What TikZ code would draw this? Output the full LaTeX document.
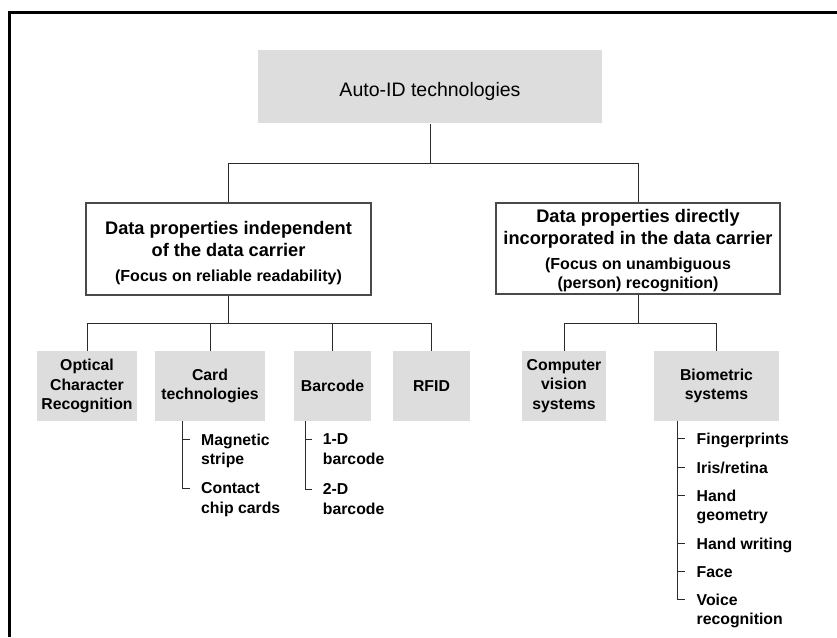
\documentclass[tikz,border=0pt]{standalone}
\usepackage{fontspec}
\setmainfont{Liberation Sans}
\definecolor{boxgray}{HTML}{DDDDDD}
\definecolor{edgegray}{HTML}{4A4A4A}
\definecolor{linegray}{HTML}{2A2A2A}
\tikzset{
  topbox/.style={fill=boxgray, draw=none, inner sep=0pt, minimum width=344pt, minimum height=73.3pt,
    font=\fontsize{19.5}{22}\selectfont, text height=22pt, text depth=2pt},
  whitebox/.style={draw=edgegray, line width=1.3pt, fill=white, inner sep=0pt, align=center,
    font=\bfseries\fontsize{18.2}{22}\selectfont},
  graybox/.style={fill=boxgray, draw=none, inner sep=0pt, align=center, minimum height=70pt,
    font=\bfseries\fontsize{15.8}{19.5}\selectfont},
  subitem/.style={anchor=north west, inner sep=0pt, align=left,
    font=\bfseries\fontsize{15.8}{19.5}\selectfont},
  conn/.style={draw=linegray, line width=1pt},
}
\newcommand{\smallline}{\fontsize{16}{22}\selectfont}
\begin{document}
\begin{tikzpicture}[x=1pt,y=-1pt]
\useasboundingbox (0,0) rectangle (837,637);
% frame
\draw[line width=3pt] (9.5,637) -- (9.5,12.5) -- (837,12.5);

% top
\node[topbox] (top) at (430,86.7) {Auto-ID technologies};

% level 1
\node[whitebox, minimum width=285pt, minimum height=92pt] (L) at (228.5,249)
  {\rule{0pt}{20.4pt}Data properties independent\\of the data carrier\\[3pt]\smallline(Focus on reliable readability)};
\node[whitebox, minimum width=284pt, minimum height=91pt] (R) at (638,248.5)
  {\rule{0pt}{17pt}Data properties directly\\incorporated in the data carrier\\[3pt]\smallline(Focus on unambiguous\\[-3pt]\smallline(person) recognition)};

% level 2
\node[graybox, minimum width=100pt] (ocr) at (87,386) {Optical\\Character\\Recognition};
\node[graybox, minimum width=110pt] (card) at (210,386) {Card\\technologies};
\node[graybox, minimum width=77pt] (bar) at (332.5,386) {Barcode};
\node[graybox, minimum width=77pt] (rfid) at (431.5,386) {RFID};
\node[graybox, minimum width=84pt] (cv) at (564,386) {Computer\\vision\\systems};
\node[graybox, minimum width=125pt] (bio) at (716.5,386) {Biometric\\systems};

% connectors top
\draw[conn] (top.south) -- ++(0,39.7) coordinate (j1);
\draw[conn] (L.north) |- (j1) -| (R.north);
\draw[conn] (L.south) -- ++(0,28) coordinate (j2);
\draw[conn] (ocr.north) |- (j2) -| (rfid.north);
\draw[conn] (card.north) -- (card.north |- j2);
\draw[conn] (bar.north) -- (bar.north |- j2);
\draw[conn] (R.south) -- ++(0,29) coordinate (j3);
\draw[conn] (cv.north) |- (j3) -| (bio.north);

% sub items: card
\node[subitem] (mag) at (201,433.7) {Magnetic\\stripe};
\node[subitem] (chip) at (201,482.7) {Contact\\chip cards};
\coordinate (c1) at (182.7,439.3);
\coordinate (c2) at (182.7,488.3);
\draw[conn] (card.south -| c1) -- (c2) -- ++(7,0);
\draw[conn] (c1) -- ++(7,0);

% sub items: barcode
\node[subitem] (b1) at (322.7,433.9) {1-D\\barcode};
\node[subitem] (b2) at (322.7,483.4) {2-D\\barcode};
\coordinate (d1) at (305,439.5);
\coordinate (d2) at (305,489);
\draw[conn] (bar.south -| d1) -- (d2) -- ++(7,0);
\draw[conn] (d1) -- ++(7,0);

% sub items: biometric
\node[subitem] (f1) at (696.5,432.7) {Fingerprints};
\node[subitem] (f2) at (696.5,461.7) {Iris/retina};
\node[subitem] (f3) at (696.5,489.4) {Hand\\geometry};
\node[subitem] (f4) at (696.5,537.7) {Hand writing};
\node[subitem] (f5) at (696.5,566.1) {Face};
\node[subitem] (f6) at (696.5,593.7) {Voice\\recognition};
\coordinate (e1) at (677.7,438.3);
\coordinate (e2) at (677.7,467.3);
\coordinate (e3) at (677.7,495);
\coordinate (e4) at (677.7,543.3);
\coordinate (e5) at (677.7,571.7);
\coordinate (e6) at (677.7,599.3);
\draw[conn] (bio.south -| e1) -- (e6) -- ++(7.5,0);
\foreach \c in {e1,e2,e3,e4,e5} \draw[conn] (\c) -- ++(7.5,0);
\end{tikzpicture}
\end{document}
